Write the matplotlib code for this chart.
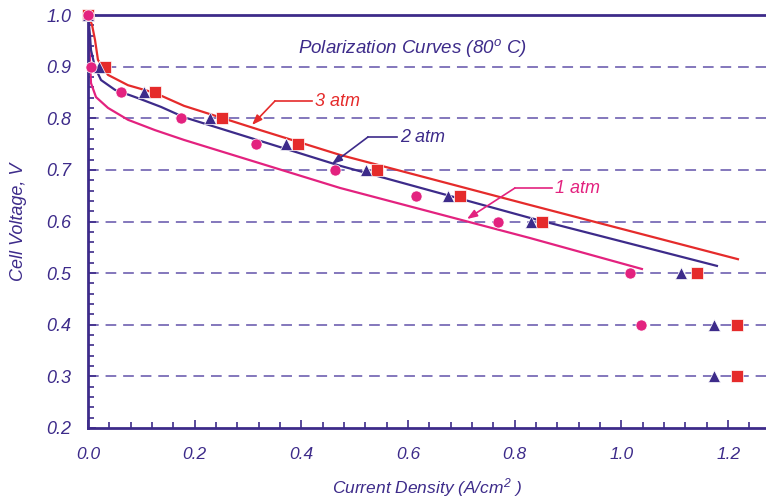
import matplotlib
matplotlib.use("Agg")
import matplotlib.pyplot as plt
from matplotlib.ticker import MultipleLocator

plt.rcParams['font.family'] = ['Liberation Sans', 'DejaVu Sans']
plt.rcParams['mathtext.fontset'] = 'custom'
plt.rcParams['mathtext.rm'] = 'Liberation Sans:italic'
plt.rcParams['mathtext.it'] = 'Liberation Sans:italic'

INDIGO = '#3d2b8a'
RED = '#e52b2b'
PINK = '#e3227f'
GRID = '#6252aa'

# measured points
x_3atm = [0.0, 0.032, 0.126, 0.251, 0.394, 0.542, 0.697, 0.851, 1.141, 1.216, 1.216]
y_3atm = [1.0, 0.9, 0.85, 0.8, 0.75, 0.70, 0.65, 0.60, 0.5, 0.4, 0.3]
x_2atm = [0.0, 0.020, 0.105, 0.229, 0.371, 0.521, 0.675, 0.830, 1.111, 1.173, 1.173]
y_2atm = [1.0, 0.9, 0.85, 0.8, 0.75, 0.70, 0.65, 0.60, 0.5, 0.4, 0.3]
x_1atm = [0.0, 0.006, 0.062, 0.174, 0.315, 0.463, 0.615, 0.769, 1.016, 1.037]
y_1atm = [1.0, 0.9, 0.85, 0.8, 0.75, 0.70, 0.65, 0.60, 0.5, 0.4]

# fitted curves
cx_3atm = [0.0, 0.0075, 0.0131, 0.0187, 0.0375, 0.075, 0.1256, 0.180, 0.323, 0.4724, 0.8285, 1.2184]
cy_3atm = [1.0, 0.981, 0.952, 0.913, 0.884, 0.864, 0.849, 0.824, 0.777, 0.729, 0.632, 0.527]
cx_2atm = [0.0, 0.0037, 0.0056, 0.0131, 0.0244, 0.0506, 0.0937, 0.1368, 0.180, 0.4724, 0.8285, 1.179]
cy_2atm = [1.0, 0.961, 0.932, 0.899, 0.874, 0.855, 0.839, 0.822, 0.802, 0.708, 0.607, 0.514]
cx_1atm = [0.0, 0.0019, 0.0037, 0.0056, 0.015, 0.0375, 0.075, 0.1256, 0.180, 0.4724, 0.8285, 1.0384]
cy_1atm = [1.0, 0.952, 0.913, 0.868, 0.841, 0.820, 0.797, 0.777, 0.758, 0.665, 0.568, 0.508]

labels = ['3 atm', '2 atm', '1 atm']
x_ticks = [0.0, 0.2, 0.4, 0.6, 0.8, 1.0, 1.2]
y_ticks = [0.2, 0.3, 0.4, 0.5, 0.6, 0.7, 0.8, 0.9, 1.0]
grid_levels = [0.3, 0.4, 0.5, 0.6, 0.7, 0.8, 0.9]

fig = plt.figure(figsize=(7.66, 5.0), dpi=100)
ax = fig.add_axes([88/766, 1-428/500, 1-88/766, (428-15)/500])
ax.set_xlim(0, 1.271)
ax.set_ylim(0.2, 1.0)

for yv in grid_levels:
    ax.axhline(yv, color=GRID, lw=1.1, dashes=(7, 4.5), zorder=1)

ax.plot(cx_1atm, cy_1atm, color=PINK, lw=1.6, zorder=2, solid_joinstyle='round')
ax.plot(cx_2atm, cy_2atm, color=INDIGO, lw=1.6, zorder=2, solid_joinstyle='round')
ax.plot(cx_3atm, cy_3atm, color=RED, lw=1.6, zorder=2, solid_joinstyle='round')

ax.plot(x_3atm, y_3atm, 's', color=RED, ms=8, mec='white', mew=0.5, zorder=4, clip_on=False)
ax.plot(x_2atm, y_2atm, '^', color=INDIGO, ms=8.5, mec='white', mew=0.5, zorder=4, clip_on=False)
ax.plot(x_1atm, y_1atm, 'o', color=PINK, ms=8, mec='white', mew=0.5, zorder=5, clip_on=False)

ax.spines['right'].set_visible(False)
for s in ['left', 'bottom', 'top']:
    ax.spines[s].set_color(INDIGO)
    ax.spines[s].set_linewidth(2.0)

ax.xaxis.set_minor_locator(MultipleLocator(0.04))
ax.yaxis.set_minor_locator(MultipleLocator(0.02))
ax.set_xticks(x_ticks)
ax.set_yticks(y_ticks)
ax.set_xticklabels([f'{v:.1f}' for v in x_ticks])
ax.set_yticklabels([f'{v:.1f}' for v in y_ticks])
ax.tick_params(axis='both', which='both', direction='in', color=INDIGO, width=1.2,
               top=False, right=False)
ax.tick_params(axis='both', which='major', length=6)
ax.tick_params(axis='both', which='minor', length=4)
ax.tick_params(axis='x', which='major', pad=14, labelsize=12.5, labelcolor=INDIGO)
ax.tick_params(axis='y', which='major', pad=12, labelsize=13, labelcolor=INDIGO)
for lab in ax.get_xticklabels() + ax.get_yticklabels():
    lab.set_style('italic')

ax.set_xlabel('Current Density (A/cm$^{2}$ )', fontsize=12.5, style='italic', color=INDIGO, labelpad=10)
ax.set_ylabel('Cell Voltage, V', fontsize=13, style='italic', color=INDIGO, labelpad=14)

ax.text(0.609, 0.936, 'Polarization Curves (80$^o$ C)', fontsize=13.5, style='italic',
        color=INDIGO, ha='center', va='center')

def data_from_px(px, py):
    return ((px - 88) / 533.5, 1.0 - (py - 15) * 0.8 / 413)

annots = [
    (labels[0], RED, (312, 101), (275, 101), (252, 125)),
    (labels[1], INDIGO, (397, 137), (368, 137), (332, 164)),
    (labels[2], PINK, (552, 188), (515, 188), (467, 219)),
]
for text, col, p_end, p_knee, p_tip in annots:
    e = data_from_px(*p_end)
    k = data_from_px(*p_knee)
    t = data_from_px(*p_tip)
    ax.plot([e[0], k[0]], [e[1], k[1]], color=col, lw=1.2, zorder=3)
    ax.annotate('', xy=t, xytext=k,
                arrowprops=dict(arrowstyle='-|>,head_length=0.6,head_width=0.22',
                                color=col, lw=1.2, shrinkA=0, shrinkB=0), zorder=3)
    ax.text(e[0] + 0.006, e[1], text, color=col, fontsize=13, style='italic',
            ha='left', va='center')

fig.savefig('out.png', dpi=100)
